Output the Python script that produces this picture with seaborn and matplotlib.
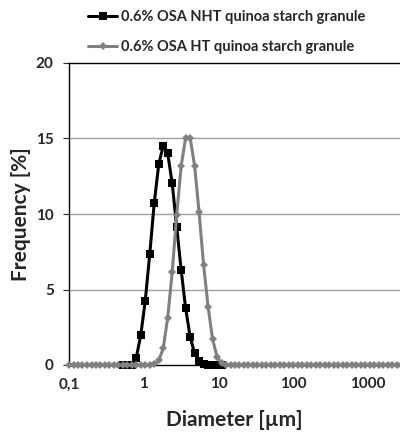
import numpy as np
import pandas as pd
import matplotlib
matplotlib.use("Agg")
import matplotlib.pyplot as plt
import seaborn as sns
from matplotlib.lines import Line2D
from matplotlib.ticker import FixedLocator, FixedFormatter, NullLocator

# ---- data ----
diameter_um = [0.100, 0.115, 0.132, 0.151, 0.174, 0.200, 0.229, 0.263, 0.302, 0.347,
               0.398, 0.457, 0.525, 0.603, 0.692, 0.794, 0.912, 1.047, 1.202, 1.380,
               1.585, 1.820, 2.089, 2.399, 2.754, 3.162, 3.631, 4.169, 4.786, 5.495,
               6.310, 7.244, 8.318, 9.550, 10.96, 12.59, 14.45, 16.60, 19.05, 21.88,
               25.12, 28.84, 33.11, 38.02, 43.65, 50.12, 57.54, 66.07, 75.86, 87.10,
               100.0, 114.8, 131.8, 151.4, 173.8, 199.5, 229.1, 263.0, 302.0, 346.7,
               398.1, 457.1, 524.8, 602.6, 691.8, 794.3, 912.0, 1047, 1202, 1380,
               1585, 1820, 2089, 2399, 2754]

nht_diameter = [0.525, 0.603, 0.692, 0.794, 0.912, 1.047, 1.202, 1.380, 1.585, 1.820,
                2.089, 2.399, 2.754, 3.162, 3.631, 4.169, 4.786, 5.495, 6.310, 7.244,
                8.318, 9.550, 10.96]
nht_freq = [0.00, 0.00, 0.02, 0.48, 1.99, 4.26, 7.35, 10.73, 13.29, 14.52,
            14.02, 12.03, 9.16, 6.29, 3.75, 1.87, 0.77, 0.26, 0.05, 0.00,
            0.00, 0.00, 0.00]

ht_freq = [0.00, 0.00, 0.00, 0.00, 0.00, 0.00, 0.00, 0.00, 0.00, 0.00,
           0.00, 0.00, 0.00, 0.00, 0.00, 0.00, 0.00, 0.00, 0.00, 0.05,
           0.30, 1.10, 3.13, 6.15, 9.93, 13.18, 15.05, 15.05, 13.18, 10.10,
           6.62, 3.86, 1.70, 0.55, 0.10, 0.00, 0.00, 0.00, 0.00, 0.00,
           0.00, 0.00, 0.00, 0.00, 0.00, 0.00, 0.00, 0.00, 0.00, 0.00,
           0.00, 0.00, 0.00, 0.00, 0.00, 0.00, 0.00, 0.00, 0.00, 0.00,
           0.00, 0.00, 0.00, 0.00, 0.00, 0.00, 0.00, 0.00, 0.00, 0.00,
           0.00, 0.00, 0.00, 0.00, 0.00]

label_nht = "0.6% OSA NHT quinoa starch granule"
label_ht = "0.6% OSA HT quinoa starch granule"

x_ticks = [0.1, 1, 10, 100, 1000]
x_ticklabels = ["0,1", "1", "10", "100", "1000"]
y_ticks = [0, 5, 10, 15, 20]

# ---- style ----
sns.set_style("white")
plt.rcParams["font.family"] = ["Lato", "DejaVu Sans"]
plt.rcParams["font.weight"] = "bold"

df_nht = pd.DataFrame({"Diameter": nht_diameter, "Frequency": nht_freq})
df_ht = pd.DataFrame({"Diameter": diameter_um, "Frequency": ht_freq})

fig = plt.figure(figsize=(4.0, 4.32), dpi=100)
ax = fig.add_axes([69 / 400, 1 - 365 / 432, 1 - 69 / 400, (365 - 63) / 432])

black = "#000000"
gray = "#808080"
lw = 2.2

sns.lineplot(data=df_nht, x="Diameter", y="Frequency", ax=ax, color=black,
             linewidth=lw, marker="s", markersize=5.6, markeredgewidth=0,
             zorder=3, clip_on=False)
sns.lineplot(data=df_ht, x="Diameter", y="Frequency", ax=ax, color=gray,
             linewidth=lw, marker="D", markersize=4.2, markeredgewidth=0,
             zorder=4, clip_on=False)

ax.set_xscale("log")
ax.set_xlim(0.1, 2670)
ax.set_ylim(0, 20)

ax.xaxis.set_major_locator(FixedLocator(x_ticks))
ax.xaxis.set_major_formatter(FixedFormatter(x_ticklabels))
ax.xaxis.set_minor_locator(NullLocator())
ax.set_yticks(y_ticks)

ax.tick_params(axis="x", length=0, pad=9, labelsize=11)
ax.tick_params(axis="y", length=4, width=0.8, direction="out", pad=7,
               labelsize=11, left=True)
for lab in ax.get_xticklabels() + ax.get_yticklabels():
    lab.set_fontweight("bold")

for y in [5, 10, 15]:
    ax.axhline(y, color="#a0a0a0", linewidth=1.0, zorder=1)

for side in ["left", "top", "bottom"]:
    ax.spines[side].set_visible(True)
    ax.spines[side].set_color("black")
    ax.spines[side].set_linewidth(1.0)
ax.spines["right"].set_visible(False)

ax.set_xlabel("Diameter [µm]", fontsize=15, fontweight="bold")
ax.set_ylabel("Frequency [%]", fontsize=15, fontweight="bold")
ax.xaxis.set_label_coords(0.5, -(420 - 365) / 302, transform=ax.transAxes)
ax.yaxis.set_label_coords(-(69 - 21) / 331, 0.5, transform=ax.transAxes)
ax.xaxis.label.set_va("center")
ax.yaxis.label.set_va("center")

if ax.get_legend() is not None:
    ax.get_legend().remove()

handles = [
    Line2D([0], [0], color=black, linewidth=lw, marker="s", markersize=5.6,
           markeredgewidth=0),
    Line2D([0], [0], color=gray, linewidth=lw, marker="D", markersize=4.2,
           markeredgewidth=0),
]
fig.legend(handles, [label_nht, label_ht], loc="upper left",
           bbox_to_anchor=(78 / 400, 1 - 0 / 432), frameon=False,
           prop={"weight": "bold", "size": 10.5}, handlelength=2.0,
           handletextpad=0.25, labelspacing=1.1, borderpad=0.2)

fig.savefig("out.png", dpi=100)
